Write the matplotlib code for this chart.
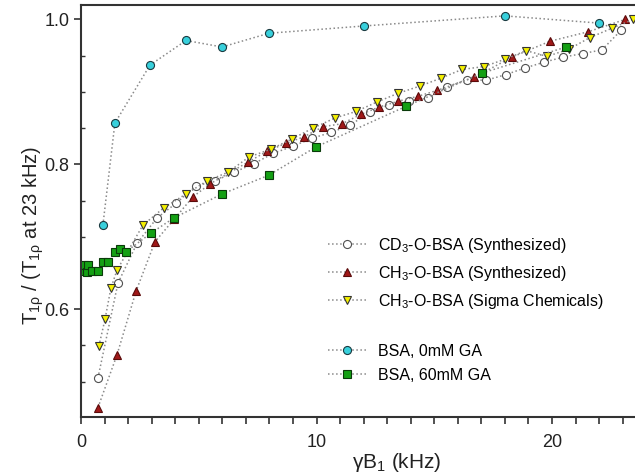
import matplotlib
matplotlib.use("Agg")
import matplotlib.pyplot as plt
from matplotlib.lines import Line2D
from matplotlib.ticker import MultipleLocator, FormatStrFormatter

plt.rcParams['font.family'] = ['Liberation Sans', 'DejaVu Sans']
plt.rcParams['mathtext.fontset'] = 'custom'
plt.rcParams['mathtext.rm'] = 'Liberation Sans'
plt.rcParams['mathtext.it'] = 'Liberation Sans:italic'

# CD3-O-BSA (Synthesized)
cd3_x = [0.72, 1.57, 2.38, 3.23, 4.03, 4.88, 5.69, 6.5, 7.35, 8.15, 9.0, 9.81, 10.62, 11.42,
         12.27, 13.08, 13.93, 14.73, 15.54, 16.39, 17.2, 18.05, 18.85, 19.66, 20.47, 21.32, 22.12, 22.93]
cd3_y = [0.505, 0.636, 0.691, 0.726, 0.746, 0.770, 0.777, 0.789, 0.801, 0.815, 0.825, 0.836, 0.844, 0.854,
         0.872, 0.882, 0.888, 0.891, 0.907, 0.917, 0.916, 0.924, 0.933, 0.941, 0.948, 0.953, 0.958, 0.985]

# CH3-O-BSA (Synthesized)
ch3s_x = [0.72, 1.53, 2.34, 3.14, 3.95, 4.75, 5.48, 7.09, 7.9, 8.7, 9.47, 10.28, 11.08, 11.89,
          12.65, 13.46, 14.31, 15.12, 16.69, 18.3, 19.92, 21.53, 23.1]
ch3s_y = [0.464, 0.537, 0.625, 0.693, 0.724, 0.755, 0.773, 0.803, 0.818, 0.829, 0.838, 0.852, 0.856, 0.869,
          0.879, 0.887, 0.894, 0.902, 0.920, 0.948, 0.970, 0.983, 1.0]

# CH3-O-BSA (Sigma Chemicals)
sigma_x = [0.76, 1.02, 1.27, 1.53, 2.63, 3.52, 4.46, 5.35, 6.24, 7.13, 8.07, 8.96, 9.85, 10.79,
           11.68, 12.57, 13.46, 14.39, 15.29, 16.18, 17.11, 18.0, 18.9, 19.79, 20.72, 21.61, 22.55, 23.44]
sigma_y = [0.549, 0.586, 0.629, 0.654, 0.716, 0.740, 0.759, 0.777, 0.789, 0.810, 0.821, 0.835, 0.850, 0.864,
           0.873, 0.886, 0.898, 0.908, 0.919, 0.931, 0.935, 0.945, 0.957, 0.949, 0.959, 0.975, 0.988, 1.0]

# BSA, 0mM GA
ga0_x = [0.93, 1.44, 2.93, 4.46, 5.99, 7.98, 12.0, 18.0, 22.0]
ga0_y = [0.716, 0.857, 0.937, 0.971, 0.962, 0.981, 0.991, 1.005, 0.995]

# BSA, 60mM GA
ga60_x = [0.04, 0.13, 0.25, 0.30, 0.47, 0.72, 0.93, 1.15, 1.44, 1.66, 1.91, 2.97, 3.95,
          5.99, 7.98, 9.98, 13.8, 17.03, 20.6]
ga60_y = [0.653, 0.661, 0.651, 0.661, 0.653, 0.653, 0.665, 0.665, 0.679, 0.683, 0.679, 0.705, 0.726,
          0.759, 0.785, 0.824, 0.880, 0.926, 0.962]

line_kw = dict(linestyle=':', color='#8a8a8a', linewidth=1.1, markeredgewidth=0.8)

fig = plt.figure(figsize=(6.35, 4.76), dpi=100)
# axes run past the right edge of the picture, as in the original crop
ax = fig.add_axes([81 / 635, 59 / 476, (23.8 * 23.55) / 635, 412 / 476])

h1, = ax.plot(cd3_x, cd3_y, marker='o', markersize=5.8, markerfacecolor='white',
              markeredgecolor='#505050', label=r'CD$_3$-O-BSA (Synthesized)', **line_kw)
h2, = ax.plot(ch3s_x, ch3s_y, marker='^', markersize=5.2, markerfacecolor='#a01818',
              markeredgecolor='#5a0a0a', label=r'CH$_3$-O-BSA (Synthesized)', **line_kw)
h3, = ax.plot(sigma_x, sigma_y, marker='v', markersize=6.2, markerfacecolor='#f4f000',
              markeredgecolor='#333333', label=r'CH$_3$-O-BSA (Sigma Chemicals)', **line_kw)
h4, = ax.plot(ga0_x, ga0_y, marker='o', markersize=5.8, markerfacecolor='#38d0dc',
              markeredgecolor='#1a3a40', label='BSA, 0mM GA', **line_kw)
h5, = ax.plot(ga60_x, ga60_y, marker='s', markersize=5.8, markerfacecolor='#14a014',
              markeredgecolor='#0a3a0a', label='BSA, 60mM GA', **line_kw)

blank = Line2D([], [], linestyle='none', marker=None)
ax.legend([h1, h2, h3, blank, h4, h5],
          [h1.get_label(), h2.get_label(), h3.get_label(), ' ', h4.get_label(), h5.get_label()],
          loc='upper left', bbox_to_anchor=(328 / 635, 1 - 236 / 476), bbox_transform=fig.transFigure,
          frameon=False, fontsize=11.5, handlelength=2.4, handletextpad=0.7,
          labelspacing=0.56, borderpad=0, borderaxespad=0)

ax.set_xlim(0, 23.8)
ax.set_ylim(0.451, 1.02)
ax.xaxis.set_major_locator(MultipleLocator(10))
ax.xaxis.set_minor_locator(MultipleLocator(1))
ax.yaxis.set_major_locator(MultipleLocator(0.2))
ax.yaxis.set_minor_locator(MultipleLocator(0.05))
ax.yaxis.set_major_formatter(FormatStrFormatter('%.1f'))

ax.tick_params(axis='x', which='both', direction='out', length=5, width=1.2,
               colors='#333333', labelsize=13, labelcolor='#222222', pad=7)
ax.tick_params(axis='y', which='major', direction='out', length=5, width=1.2,
               colors='#333333', labelsize=13, labelcolor='#222222')
ax.tick_params(axis='y', which='minor', direction='in', length=3, width=1.0, colors='#333333')

for side in ['left', 'bottom', 'top', 'right']:
    ax.spines[side].set_linewidth(1.5)
    ax.spines[side].set_color('#333333')

ax.set_xlabel('γB$_1$ (kHz)', fontsize=15, color='#222222', va='top')
ax.xaxis.set_label_coords(0.564, -0.082)
ax.set_ylabel(r'T$_{\mathrm{1ρ}}$ / (T$_{\mathrm{1ρ}}$ at 23 kHz)', fontsize=14.5, color='#222222')
ax.yaxis.set_label_coords(-0.063, 0.442)

fig.savefig('out.png', dpi=100)
